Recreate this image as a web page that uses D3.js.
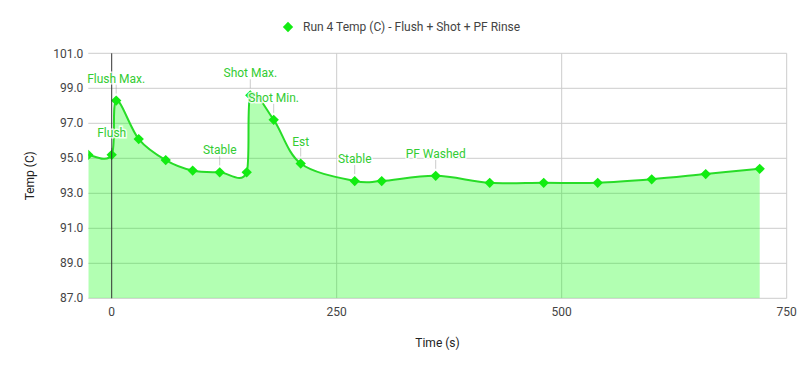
<!DOCTYPE html>
<html>
<head>
<meta charset="utf-8">
<script src="https://cdn.jsdelivr.net/npm/d3@7"></script>
<style>
  body { margin: 0; background: #fff; }
  text { font-family: Roboto, "Noto Sans", sans-serif; }
</style>
</head>
<body>
<div id="chart"></div>
<script>
// data
const times = [-26, 0, 5, 30, 60, 90, 120, 150, 154, 180, 210, 270, 300, 360, 420, 480, 540, 600, 660, 720];
const temps = [95.2, 95.2, 98.3, 96.1, 94.9, 94.3, 94.2, 94.2, 98.6, 97.2, 94.7, 93.7, 93.7, 94.0, 93.6, 93.6, 93.6, 93.8, 94.1, 94.4];
const notes = ["", "Flush", "Flush Max.", "", "", "", "Stable", "", "Shot Max.", "Shot Min.", "Est", "Stable", "", "PF Washed", "", "", "", "", "", ""];
const xTicks = [0, 250, 500, 750];
const yTicks = [87, 89, 91, 93, 95, 97, 99, 101];
const seriesName = "Run 4 Temp (C) - Flush + Shot + PF Rinse";

const W = 806, H = 371;
const margin = {top: 53.3, right: 19.3, bottom: 72.7, left: 88.3},
    width = W - margin.left - margin.right,
    height = H - margin.top - margin.bottom;

const lineGreen = "#28dc28";
const markGreen = "#12ec12";

const svg = d3.select("#chart")
  .append("svg")
    .attr("width", W)
    .attr("height", H);

const g = svg.append("g")
    .attr("transform", `translate(${margin.left},${margin.top})`);

const x = d3.scaleLinear().domain([-26, 750]).range([0, width]);
const y = d3.scaleLinear().domain([87, 101]).range([height, 0]);

const points = times.map((t, i) => ({t: t, v: temps[i], note: notes[i]}));

// smoothed path like the "function" curve: catmull-rom style tangents,
// control points kept inside each segment's x range so nothing loops back
function smoothPath(pts, closeToBase) {
  const p = pts.map(d => [x(d.t), y(d.v)]);
  const path = d3.path();
  path.moveTo(p[0][0], p[0][1]);
  for (let i = 0; i < p.length - 1; i++) {
    const a = p[i], b = p[i + 1];
    const prev = p[Math.max(i - 1, 0)], next = p[Math.min(i + 2, p.length - 1)];
    let t1 = [(b[0] - prev[0]) / 6, (b[1] - prev[1]) / 6];
    let t2 = [(next[0] - a[0]) / 6, (next[1] - a[1]) / 6];
    const dx = b[0] - a[0];
    if (t1[0] > dx) { t1 = [dx, t1[1] * dx / t1[0]]; }
    if (t2[0] > dx) { t2 = [dx, t2[1] * dx / t2[0]]; }
    path.bezierCurveTo(a[0] + t1[0], a[1] + t1[1], b[0] - t2[0], b[1] - t2[1], b[0], b[1]);
  }
  if (closeToBase) {
    path.lineTo(p[p.length - 1][0], height);
    path.lineTo(p[0][0], height);
    path.closePath();
  }
  return path.toString();
}

// gridlines
g.append("g")
  .selectAll("line")
  .data(yTicks)
  .join("line")
    .attr("x1", 0).attr("x2", width)
    .attr("y1", d => y(d)).attr("y2", d => y(d))
    .attr("stroke", "#cccccc");

g.append("g")
  .selectAll("line")
  .data(xTicks.filter(d => d != 0))
  .join("line")
    .attr("x1", d => x(d)).attr("x2", d => x(d))
    .attr("y1", 0).attr("y2", height)
    .attr("stroke", "#cccccc");

svg.append("clipPath").attr("id", "plot-clip")
  .append("rect").attr("width", width).attr("height", height);

const plot = g.append("g").attr("clip-path", "url(#plot-clip)");

plot.append("path")
    .attr("d", smoothPath(points, true))
    .attr("fill", "#00ff00")
    .attr("fill-opacity", 0.3);

// zero line
g.append("line")
    .attr("x1", x(0)).attr("x2", x(0))
    .attr("y1", 0).attr("y2", height)
    .attr("stroke", "#333333");

plot.append("path")
    .attr("d", smoothPath(points, false))
    .attr("fill", "none")
    .attr("stroke", lineGreen)
    .attr("stroke-width", 2);

// markers
const diamond = d3.symbol().type(d3.symbolDiamond2).size(68);
plot.append("g")
  .selectAll("path")
  .data(points)
  .join("path")
    .attr("transform", d => `translate(${x(d.t)},${y(d.v)})`)
    .attr("d", diamond())
    .attr("fill", markGreen);

// annotations
const ann = g.append("g")
  .selectAll("g")
  .data(points.filter(d => d.note != ""))
  .join("g")
    .attr("transform", d => `translate(${x(d.t)},${y(d.v)})`);
ann.append("line")
    .attr("y1", -7).attr("y2", -16)
    .attr("stroke", "#999999")
    .attr("stroke-opacity", 0.5);
ann.append("text")
    .attr("y", -18)
    .attr("text-anchor", "middle")
    .attr("font-size", 12)
    .attr("fill", "#33cc33")
    .attr("stroke", "#ffffff")
    .attr("stroke-width", 3)
    .attr("stroke-opacity", 0.8)
    .attr("paint-order", "stroke")
    .text(d => d.note);

// axes labels
g.append("g")
  .selectAll("text")
  .data(yTicks)
  .join("text")
    .attr("x", -5)
    .attr("y", d => y(d))
    .attr("dy", "0.35em")
    .attr("text-anchor", "end")
    .attr("font-size", 12)
    .attr("fill", "#444444")
    .text(d => d3.format(".1f")(d));

g.append("g")
  .selectAll("text")
  .data(xTicks)
  .join("text")
    .attr("x", d => x(d))
    .attr("y", height + 18)
    .attr("text-anchor", "middle")
    .attr("font-size", 12)
    .attr("fill", "#444444")
    .text(d => d);

svg.append("text")
    .attr("x", margin.left + width / 2)
    .attr("y", 347)
    .attr("text-anchor", "middle")
    .attr("font-size", 12)
    .attr("fill", "#222222")
    .text("Time (s)");

svg.append("text")
    .attr("transform", `translate(34,${margin.top + height / 2}) rotate(-90)`)
    .attr("text-anchor", "middle")
    .attr("font-size", 12)
    .attr("fill", "#222222")
    .text("Temp (C)");

// legend
const legend = svg.append("g").attr("transform", "translate(288,27)");
legend.append("path")
    .attr("d", d3.symbol().type(d3.symbolDiamond2).size(68)())
    .attr("fill", markGreen);
legend.append("text")
    .attr("x", 15)
    .attr("dy", "0.35em")
    .attr("font-size", 12)
    .attr("fill", "#444444")
    .text(seriesName);
</script>
</body>
</html>
